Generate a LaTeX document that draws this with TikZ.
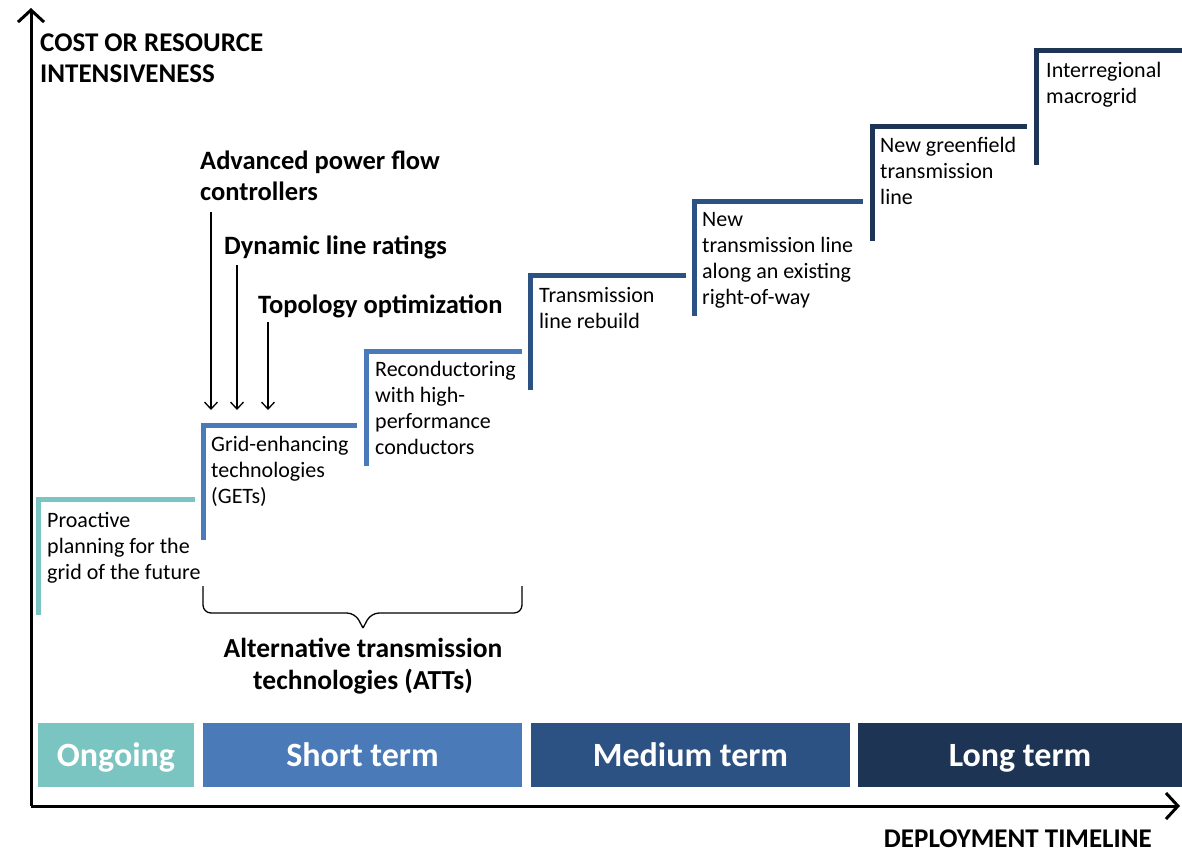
\documentclass[tikz,border=0pt]{standalone}
\usepackage{fontspec}
\setmainfont{Carlito}
\usetikzlibrary{arrows.meta}
\definecolor{cOngoing}{HTML}{7AC4C1}
\definecolor{cShort}{HTML}{4A7AB8}
\definecolor{cMedium}{HTML}{2C5183}
\definecolor{cLong}{HTML}{1D3454}
\begin{document}
\begin{tikzpicture}[x=1pt,y=-1pt,
  axis/.style={line width=3pt,-{Straight Barb[length=12pt,width=26pt,line width=3pt]}},
  stepline/.style={line width=5pt,line join=miter},
  steptext/.style={anchor=base west,inner sep=0pt,align=left,font=\fontsize{22}{26}\selectfont},
  techlabel/.style={anchor=base west,inner sep=0pt,align=left,font=\fontsize{26.5}{31}\selectfont\bfseries},
  techarrow/.style={line width=1.3pt,-{Straight Barb[length=7pt,width=13pt,line width=1.3pt]}},
  axislabel/.style={inner sep=0pt,align=left,font=\fontsize{27}{31}\selectfont\bfseries},
  termbar/.style={inner sep=0pt,minimum height=64pt,text height=26pt,text depth=4pt,text=white,font=\fontsize{34}{40}\selectfont\bfseries}]
\useasboundingbox (0,0) rectangle (1182,852);

%Axes
\coordinate (origin) at (31,806);
\coordinate (ytip) at (31,8);
\coordinate (xtip) at (1180,806);
\draw[axis] (origin) -- (ytip);
\draw[axis] (origin) -- (xtip);

% Text Node
\node[axislabel,anchor=base west] (ylabel) at (40,82) {COST OR RESOURCE\\INTENSIVENESS};
% Text Node
\node[axislabel,anchor=base east] (xlabel) at (1152,847) {DEPLOYMENT TIMELINE};

%Steps
\draw[stepline,cOngoing] (38,615) -- (38,499) -- (195,499);
\draw[stepline,cShort] (203,540) -- (203,425) -- (357,425);
\draw[stepline,cShort] (366,466) -- (366,351) -- (522,351);
\draw[stepline,cMedium] (530,390) -- (530,275) -- (686,275);
\draw[stepline,cMedium] (694,316) -- (694,201) -- (863,201);
\draw[stepline,cLong] (872,241) -- (872,126) -- (1027,126);
\draw[stepline,cLong] (1036,165) -- (1036,50) -- (1182,50);

% Text Node (anchored at the last line)
\node[steptext] (proactive) at (47,579) {Proactive\\planning for the\\grid of the future};
% Text Node
\node[steptext] (gets) at (211,503) {Grid-enhancing\\technologies\\(GETs)};
% Text Node
\node[steptext] (reconductor) at (375,454) {Reconductoring\\with high-\\performance\\conductors};
% Text Node
\node[steptext] (rebuild) at (539,328) {Transmission\\line rebuild};
% Text Node
\node[steptext] (existrow) at (702,304) {New\\transmission line\\along an existing\\right-of-way};
% Text Node
\node[steptext] (greenfield) at (880,204) {New greenfield\\transmission\\line};
% Text Node
\node[steptext] (macrogrid) at (1046,103) {Interregional\\macrogrid};

%GETs
\node[techlabel] (apfc) at (200,200) {Advanced power flow\\controllers};
\node[techlabel] (dlr) at (224,254) {Dynamic line ratings};
\node[techlabel] (topo) at (258,313) {Topology optimization};
\coordinate (apfc-s) at (211,212);
\coordinate (dlr-s) at (237,265);
\coordinate (topo-s) at (268,322);
\coordinate (apfc-e) at (211,410);
\coordinate (dlr-e) at (237,410);
\coordinate (topo-e) at (268,410);
\draw[techarrow] (apfc-s) -- (apfc-e);
\draw[techarrow] (dlr-s) -- (dlr-e);
\draw[techarrow] (topo-s) -- (topo-e);

%Brace
\draw[line width=1.3pt,rounded corners=8pt] (203,586) -- (203,613) -- (355,613) -- (363,628);
\draw[line width=1.3pt,rounded corners=8pt] (522,586) -- (522,613) -- (371,613) -- (363,628);
% Text Node
\node[inner sep=0pt,align=center,anchor=base,font=\fontsize{27.5}{32}\selectfont\bfseries] (atts) at (363,689) {Alternative transmission\\technologies (ATTs)};

%Timeline bars
\node[termbar,fill=cOngoing,minimum width=156pt] (ongoing) at (116,755) {Ongoing};
\node[termbar,fill=cShort,minimum width=319pt] (short) at (362.5,755) {Short term};
\node[termbar,fill=cMedium,minimum width=319pt] (medium) at (690.5,755) {Medium term};
\node[termbar,fill=cLong,minimum width=324pt] (long) at (1020,755) {Long term};

\end{tikzpicture}
\end{document}
